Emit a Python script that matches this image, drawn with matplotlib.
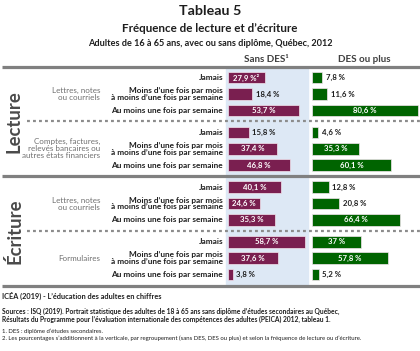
import matplotlib
matplotlib.use("Agg")
import matplotlib.pyplot as plt
from matplotlib.patches import Rectangle

plt.rcParams['font.family'] = ['Lato', 'DejaVu Sans']

# ---------------- data ----------------
sections = ["Lecture", "Écriture"]
groups = ["Lettres, notes\nou courriels",
          "Comptes, factures,\nrelevés bancaires ou\nautres états financiers",
          "Lettres, notes\nou courriels",
          "Formulaires"]
frequencies = ["Jamais",
               "Moins d’une fois par mois\nà moins d’une fois par semaine",
               "Au moins une fois par semaine"]
series_names = ["Sans DES¹", "DES ou plus"]
sans_des = [27.9, 18.4, 53.7, 15.8, 37.4, 46.8, 40.1, 24.6, 35.3, 58.7, 37.6, 3.8]
des_plus = [7.8, 11.6, 80.6, 4.6, 35.3, 60.1, 12.8, 20.8, 66.4, 37, 57.8, 5.2]

title = "Tableau 5"
subtitle = "Fréquence de lecture et d’écriture"
subsubtitle = "Adultes de 16 à 65 ans, avec ou sans diplôme, Québec, 2012"
footer_title = "ICÉA (2019) - L’éducation des adultes en chiffres"
sources = ["Sources : ISQ (2019). Portrait statistique des adultes de 18 à 65 ans sans diplôme d’études secondaires au Québec,",
           "Résultats du Programme pour l’évaluation internationale des compétences des adultes (PEICA) 2012, tableau 1."]
notes = ["1. DES : diplôme d’études secondaires.",
         "2. Les pourcentages s’additionnent à la verticale, par regroupement (sans DES, DES ou plus) et selon la fréquence de lecture ou d’écriture."]

# ---------------- layout (pixels) ----------------
W, H = 420, 351
Y0, GROUP, PITCH = 77.7, 54.7, 16.4
BAR_H = 11.5
PX_PER_PCT = 1.32
MAROON = "#7a1f50"
GREEN = "#006400"
DARK = "#1e1e1e"

def row_y(i):
    return Y0 + (i // 3) * GROUP + (i % 3) * PITCH

def boundary(g):
    return Y0 + g * GROUP - 11

fig = plt.figure(figsize=(W / 100, H / 100), dpi=100)
bg = fig.add_axes([0, 0, 1, 1])
bg.set_xlim(0, W)
bg.set_ylim(H, 0)
bg.axis('off')

top, bottom = boundary(0), boundary(4)
bg.add_patch(Rectangle((226, top), 82, bottom - top, color="#dde8f5", zorder=0))

# separators
for g in range(5):
    y = boundary(g)
    if g % 2 == 0:
        bg.plot([2, W], [y, y], color="#808080", lw=2.3, solid_capstyle='butt', zorder=2)
    else:
        bg.plot([27, W], [y, y], color="#8c8c8c", lw=1.6, linestyle=(0, (1.3, 1.4)),
                dash_capstyle='butt', zorder=2)

def px_axes(x0, x1, y0, y1):
    ax = fig.add_axes([x0 / W, 1 - y1 / H, (x1 - x0) / W, (y1 - y0) / H])
    ax.set_ylim(y1, y0)
    ax.patch.set_visible(False)
    ax.axis('off')
    return ax

ax1 = px_axes(226, 308, top, bottom)
ax1.set_xlim(-2 / PX_PER_PCT, 80 / PX_PER_PCT)
ax2 = px_axes(310, 420, top, bottom)
ax2.set_xlim(-2 / PX_PER_PCT, 108 / PX_PER_PCT)

ys = [row_y(i) for i in range(len(sans_des))]
val_texts = []
for ax, vals, col, sup in ((ax1, sans_des, MAROON, True), (ax2, des_plus, GREEN, False)):
    ax.barh(ys, vals, height=BAR_H, color=col, edgecolor="#f2e6ee", linewidth=0.5)
    for i, (v, y) in enumerate(zip(vals, ys)):
        s = f"{v:g}".replace('.', ',') + " %"
        if sup and i == 0:
            s += "²"
        if v >= 22:
            t = ax.text(v / 2, y, s, ha='center', va='center', color='white',
                        fontweight='bold', fontsize=5)
        else:
            t = ax.annotate(s, (v, y), xytext=(2.5, 0), textcoords='offset points',
                            ha='left', va='center', color=DARK, fontweight='bold', fontsize=5)
        val_texts.append(t)

# row labels
row_texts = []
for i, y in enumerate(ys):
    t = bg.text(223, y, frequencies[i % 3], ha='right', va='center', color=DARK,
                fontweight='bold', fontsize=5, linespacing=0.95)
    row_texts.append(t)

# group labels
grp_texts = []
for g, lab in enumerate(groups):
    y = row_y(g * 3 + 1)
    t = bg.text(100, y, lab, ha='right', va='center', color="#707070",
                fontsize=5, linespacing=1.0)
    grp_texts.append(t)

# section labels
sec_texts = []
for s, lab in enumerate(sections):
    y = (boundary(2 * s) + boundary(2 * s + 2)) / 2
    t = bg.text(14, y, lab, rotation=90, ha='center', va='center', color="#4a4a4a",
                fontweight='bold', fontsize=11)
    sec_texts.append(t)

# titles
t1 = bg.text(210, 11, title, ha='center', va='center', fontweight='bold', color=DARK, fontsize=11)
t2 = bg.text(210, 28, subtitle, ha='center', va='center', fontweight='bold', color=DARK, fontsize=8)
t3 = bg.text(210, 44, subsubtitle, ha='center', va='center', fontweight='bold', color=DARK, fontsize=6)
h1 = bg.text(266, 59, series_names[0], ha='center', va='center', fontweight='bold', color="#404040", fontsize=7)
h2 = bg.text(364, 59, series_names[1], ha='center', va='center', fontweight='bold', color="#404040", fontsize=7)

# footer
f1 = bg.text(2, 296, footer_title, ha='left', va='center', color=DARK, fontweight='bold', fontsize=5)
f2 = bg.text(2, 311.5, sources[0], ha='left', va='center', color=DARK, fontweight='bold', fontsize=4)
f3 = bg.text(2, 319.5, sources[1], ha='left', va='center', color=DARK, fontweight='bold', fontsize=4)
f4 = bg.text(2, 331, notes[0], ha='left', va='center', color=DARK, fontsize=3.5)
f5 = bg.text(2, 338, notes[1], ha='left', va='center', color=DARK, fontsize=3.5)

fig.canvas.draw()
r = fig.canvas.get_renderer()

def fit(ref, target, others=(), vertical=False):
    ext = ref.get_window_extent(r)
    w = ext.height if vertical else ext.width
    s = ref.get_fontsize() * target / w
    for t in [ref] + list(others):
        t.set_fontsize(s)

fit(t1, 62)
fit(t2, 176)
fit(t3, 245)
fit(h2, 53, [h1])
fit(row_texts[2], 114, row_texts)
fit(grp_texts[1], 79, grp_texts)
fit(sec_texts[1], 65, sec_texts, vertical=True)
fit(val_texts[1], 24, val_texts)
fit(f1, 161)
fit(f2, 331, [f3])
fit(f5, 370, [f4])

fig.savefig("out.png", dpi=100)
